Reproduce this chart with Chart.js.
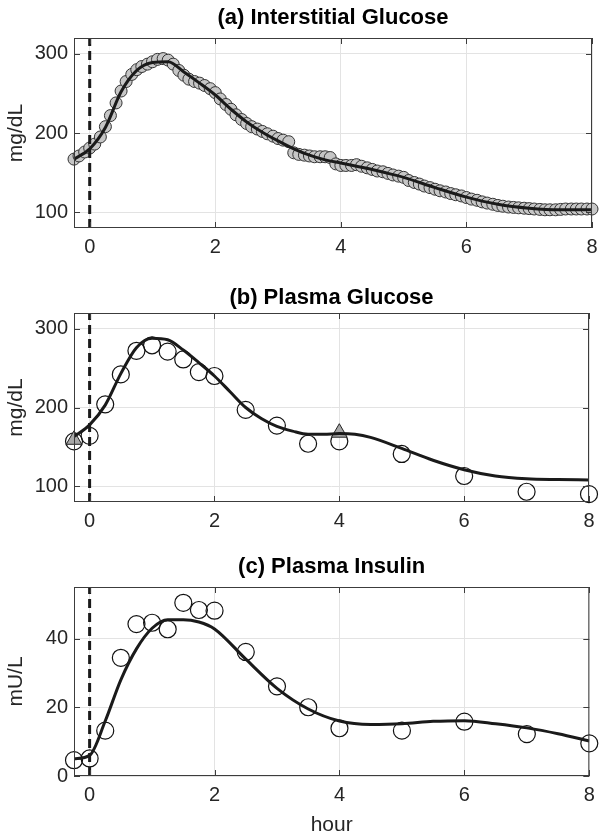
<!DOCTYPE html>
<html>
<head>
<meta charset="utf-8">
<script src="https://cdn.jsdelivr.net/npm/chart.js@4.4.1/dist/chart.umd.min.js"></script>
<style>
  body { margin: 0; background: #fff; width: 599px; height: 837px; position: relative; overflow: hidden; }
  canvas { position: absolute; left: 0; }
</style>
</head>
<body>
<canvas id="chartA" width="599" height="262" style="top:0px"></canvas>
<canvas id="chartB" width="599" height="270" style="top:262px"></canvas>
<canvas id="chartC" width="599" height="305" style="top:532px"></canvas>
<script>
// (a) interstitial glucose, CGM samples every 5 min
const cgmHours = [-0.25, -0.17, -0.08,
  0, 0.08, 0.17, 0.25, 0.33, 0.42, 0.5, 0.58, 0.67, 0.75, 0.83, 0.92,
  1, 1.08, 1.17, 1.25, 1.33, 1.42, 1.5, 1.58, 1.67, 1.75, 1.83, 1.92,
  2, 2.08, 2.17, 2.25, 2.33, 2.42, 2.5, 2.58, 2.67, 2.75, 2.83, 2.92,
  3, 3.08, 3.17, 3.25, 3.33, 3.42, 3.5, 3.58, 3.67, 3.75, 3.83, 3.92,
  4, 4.08, 4.17, 4.25, 4.33, 4.42, 4.5, 4.58, 4.67, 4.75, 4.83, 4.92,
  5, 5.08, 5.17, 5.25, 5.33, 5.42, 5.5, 5.58, 5.67, 5.75, 5.83, 5.92,
  6, 6.08, 6.17, 6.25, 6.33, 6.42, 6.5, 6.58, 6.67, 6.75, 6.83, 6.92,
  7, 7.08, 7.17, 7.25, 7.33, 7.42, 7.5, 7.58, 7.67, 7.75, 7.83, 7.92,
  8];
const cgmGlucose = [167, 171, 176,
  181, 186, 195, 208, 222, 238, 253, 265, 274, 280, 284, 287,
  290, 293, 294, 292, 287, 279, 273, 268, 265, 263, 260, 256,
  251, 243, 236, 230, 223, 217, 212, 208, 205, 202, 199, 196,
  193, 191, 189, 175, 173, 172, 171, 170, 170, 170, 169, 161,
  159, 159, 159, 160, 158, 156, 154, 152, 151, 149, 147, 145.5,
  144, 140, 137.5, 135.5, 133, 131, 129, 127, 125.5, 123.5, 122, 120.5,
  118.5, 116.5, 115, 113, 111.5, 110, 108.5, 107.5, 106.5, 106, 105.5, 105,
  104.5, 104, 103.5, 103, 103, 103, 103.5, 104, 104, 104, 104, 104,
  104];
const cgmFitHours = [-0.25, 0, 0.25, 0.5, 0.75, 1, 1.25, 1.5, 1.75, 2, 2.25, 2.5, 2.75, 3, 3.25, 3.5, 3.75, 4, 4.25, 4.5, 4.75, 5, 5.5, 6, 6.5, 7, 7.5, 8];
const cgmFitGlucose = [167, 180, 207, 252, 279, 289, 290, 277, 263, 248, 230, 214, 201, 190, 180, 172, 166, 162, 158, 154, 149, 144, 131, 119, 110, 105, 103, 103];

// (b) plasma glucose
const sampleHours = [-0.25, 0, 0.25, 0.5, 0.75, 1, 1.25, 1.5, 1.75, 2, 2.5, 3, 3.5, 4, 5, 6, 7, 8];
const plasmaGlucose = [157, 164, 204, 242, 272, 279, 271, 261, 245, 240, 197, 177, 154, 157, 141, 113, 93, 90];
const refHours = [-0.25, 4];
const refGlucose = [159, 168];
const glucoseFitHours = [-0.25, 0, 0.25, 0.5, 0.75, 1, 1.25, 1.5, 1.75, 2, 2.25, 2.5, 2.75, 3, 3.25, 3.5, 3.75, 4, 4.25, 4.5, 5, 5.5, 6, 6.5, 7, 7.5, 8];
const glucoseFitValues = [163, 178, 203, 243, 276, 288, 286, 273, 257, 240, 220, 200, 186, 176, 170, 166, 166, 167, 166, 162, 148, 133, 121, 113, 109.5, 108.5, 108];

// (c) plasma insulin
const plasmaInsulin = [4.6, 5.1, 13.2, 34.4, 44.2, 44.6, 42.7, 50.4, 48.3, 48.1, 36.1, 26.1, 20, 13.9, 13.2, 15.8, 12.2, 9.5];
const insulinFitHours = [-0.25, 0, 0.25, 0.5, 0.75, 1, 1.25, 1.5, 1.75, 2, 2.5, 3, 3.5, 4, 4.5, 5, 5.5, 6, 6.5, 7, 7.5, 8];
const insulinFitValues = [5, 6, 16, 28, 37, 43, 45.5, 45.5, 44.8, 42.8, 34, 25.5, 19.5, 16, 15, 15.2, 15.9, 16.1, 15.2, 14, 12.3, 10.2];

const hourTicks = [0, 2, 4, 6, 8];
const glucoseTicks = [100, 200, 300];
const insulinTicks = [0, 20, 40];
const mealHour = 0;

const FONT = '"Liberation Sans", Arial, Helvetica, sans-serif';
const TEXT = '#262626';

function pts(xs, ys) {
  return xs.map((x, i) => ({ x: x, y: ys[i] }));
}

// box with inward ticks on all sides plus the bold title, MATLAB style
const framePlugin = {
  id: 'frame',
  afterDraw(chart, args, opts) {
    const ctx = chart.ctx;
    const a = chart.chartArea;
    const x = chart.scales.x, y = chart.scales.y;
    ctx.save();
    ctx.strokeStyle = '#3c3c3c';
    ctx.lineWidth = 1;
    ctx.strokeRect(a.left + 0.5, a.top + 0.5, a.right - a.left - 1, a.bottom - a.top - 1);
    ctx.beginPath();
    x.ticks.forEach(t => {
      const px = Math.round(x.getPixelForValue(t.value)) + 0.5;
      ctx.moveTo(px, a.bottom); ctx.lineTo(px, a.bottom - 6);
      ctx.moveTo(px, a.top); ctx.lineTo(px, a.top + 6);
    });
    y.ticks.forEach(t => {
      const py = Math.round(y.getPixelForValue(t.value)) + 0.5;
      ctx.moveTo(a.left, py); ctx.lineTo(a.left + 6, py);
      ctx.moveTo(a.right, py); ctx.lineTo(a.right - 6, py);
    });
    ctx.stroke();
    ctx.fillStyle = '#000';
    ctx.font = 'bold 22px ' + FONT;
    ctx.textAlign = 'center';
    ctx.textBaseline = 'middle';
    ctx.fillText(opts.text, (a.left + a.right) / 2, opts.y);
    ctx.restore();
  }
};

function makePanel(id, datasets, cfg) {
  new Chart(document.getElementById(id), {
    type: 'scatter',
    data: { datasets: datasets },
    plugins: [framePlugin],
    options: {
      responsive: false,
      animation: false,
      layout: { padding: { top: cfg.top, right: 4, bottom: 0, left: 0 } },
      plugins: {
        legend: { display: false },
        tooltip: { enabled: false },
        frame: { text: cfg.title, y: cfg.titleY }
      },
      scales: {
        x: {
          type: 'linear', min: -0.25, max: 8,
          afterBuildTicks: s => { s.ticks = hourTicks.map(v => ({ value: v })); },
          afterFit: s => { s.height = cfg.xHeight; s.paddingLeft = 0; s.paddingRight = 0; },
          grid: { color: '#e3e3e3', drawTicks: false },
          border: { display: false },
          ticks: { padding: 7, color: TEXT, font: { family: FONT, size: 20 } },
          title: cfg.xTitle ? { display: true, text: cfg.xTitle, color: TEXT, font: { family: FONT, size: 21, lineHeight: 1.1 }, padding: 0 } : { display: false }
        },
        y: {
          type: 'linear', min: cfg.yMin, max: cfg.yMax,
          afterBuildTicks: s => { s.ticks = cfg.yTicks.map(v => ({ value: v })); },
          afterFit: s => { s.width = 74; s.paddingTop = 0; s.paddingBottom = 0; },
          grid: { color: '#e3e3e3', drawTicks: false },
          border: { display: false },
          ticks: { padding: 6, color: TEXT, font: { family: FONT, size: 20 } },
          title: { display: true, text: cfg.yTitle, color: TEXT, font: { family: FONT, size: 21 }, padding: { top: 4, bottom: 0 } }
        }
      }
    }
  });
}

function mealLine(lo, hi) {
  return {
    type: 'line', data: [{ x: mealHour, y: lo }, { x: mealHour, y: hi }],
    borderColor: '#1a1a1a', borderWidth: 3, borderDash: [9, 5], pointRadius: 0, order: 0
  };
}

function fitLine(xs, ys) {
  return {
    type: 'line', data: pts(xs, ys), borderColor: '#1a1a1a', borderWidth: 3,
    pointRadius: 0, cubicInterpolationMode: 'monotone', order: 1
  };
}

function openCircles(xs, ys) {
  return {
    data: pts(xs, ys), pointRadius: 8.5, pointBorderWidth: 1.2,
    pointBorderColor: '#111', pointBackgroundColor: 'rgba(0,0,0,0)', clip: false, order: 3
  };
}

makePanel('chartA', [
  mealLine(80, 320),
  fitLine(cgmFitHours, cgmFitGlucose),
  { data: pts(cgmHours, cgmGlucose), pointRadius: 6, pointBorderWidth: 1,
    pointBorderColor: '#333', pointBackgroundColor: '#c6c6c6', clip: false, order: 2 }
], { top: 38, xHeight: 34, yMin: 80, yMax: 320, yTicks: glucoseTicks, yTitle: 'mg/dL',
     title: '(a) Interstitial Glucose', titleY: 18 });

makePanel('chartB', [
  mealLine(80, 320),
  { data: pts(refHours, refGlucose), pointStyle: 'triangle', pointRadius: 9, pointBorderWidth: 1,
    pointBorderColor: '#222', pointBackgroundColor: '#a8a8a8', clip: false, order: 2 },
  fitLine(glucoseFitHours, glucoseFitValues),
  openCircles(sampleHours, plasmaGlucose)
], { top: 51, xHeight: 30, yMin: 80, yMax: 320, yTicks: glucoseTicks, yTitle: 'mg/dL',
     title: '(b) Plasma Glucose', titleY: 36 });

makePanel('chartC', [
  mealLine(0, 55),
  fitLine(insulinFitHours, insulinFitValues),
  openCircles(sampleHours, plasmaInsulin)
], { top: 55, xHeight: 61, yMin: 0, yMax: 55, yTicks: insulinTicks, yTitle: 'mU/L',
     title: '(c) Plasma Insulin', titleY: 35, xTitle: 'hour' });
</script>
</body>
</html>
